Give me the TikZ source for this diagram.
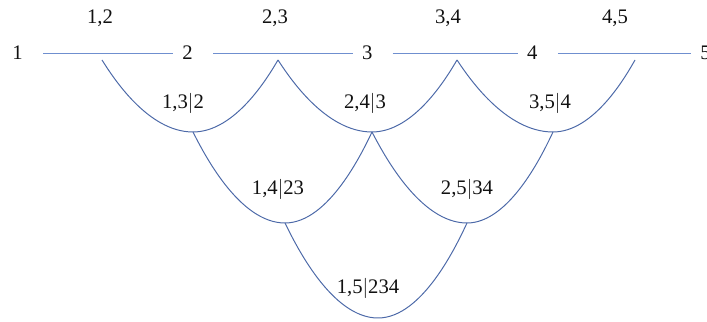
\documentclass[tikz,border=0pt]{standalone}
\usepackage{fontspec}
\setmainfont{Liberation Serif}
\usepackage{tikz}
\definecolor{cLine}{HTML}{6F8FCF}
\definecolor{cCurve}{HTML}{4C69A8}
\definecolor{cInk}{HTML}{111111}
\tikzset{
  var/.style={font=\fontsize{14.7}{17}\selectfont,text=cInk,inner sep=0pt},
  elbl/.style={font=\fontsize{14.7}{17}\selectfont,text=cInk,inner sep=1pt},
  tline/.style={draw=cLine,line width=0.7pt,shorten <=0.5cm,shorten >=0.22cm},
  vcurve/.style={draw=cCurve,line width=0.7pt},
}

\begin{document}
\begin{tikzpicture}[x=1cm,y=1cm]
  \useasboundingbox (0,0) rectangle (17.675,8.025);
  % tree 1
  \node[var] (v1) at (0.44,6.7) {1};
  \node[var] (v2) at (4.69,6.7) {2};
  \node[var] (v3) at (9.18,6.7) {3};
  \node[var] (v4) at (13.31,6.7) {4};
  \node[var] (v5) at (17.64,6.7) {5};
  \draw[tline] (v1) -- (v2);
  \draw[tline] (v2) -- (v3);
  \draw[tline] (v3) -- (v4);
  \draw[tline] (v4) -- (v5);
  \node[elbl] (e12) at (2.5,7.575) {1,2};
  \node[elbl] (e23) at (6.875,7.575) {2,3};
  \node[elbl] (e34) at (11.2,7.575) {3,4};
  \node[elbl] (e45) at (15.375,7.575) {4,5};
  \coordinate (a12) at (2.55,6.525);
  \coordinate (a23) at (6.95,6.525);
  \coordinate (a34) at (11.425,6.525);
  \coordinate (a45) at (15.875,6.525);
  % tree 2
  \coordinate (b13) at (4.825,4.725);
  \coordinate (b24) at (9.3,4.725);
  \coordinate (b35) at (13.825,4.725);
  \draw[vcurve] (a12) parabola bend (b13) (a23);
  \draw[vcurve] (a23) parabola bend (b24) (a34);
  \draw[vcurve] (a34) parabola bend (b35) (a45);
  \node[elbl] (e13) at (4.575,5.45) {1,3$|$2};
  \node[elbl] (e24) at (9.125,5.45) {2,4$|$3};
  \node[elbl] (e35) at (13.75,5.45) {3,5$|$4};
  % tree 3
  \coordinate (c14) at (7.125,2.45);
  \coordinate (c25) at (11.675,2.45);
  \draw[vcurve] (b13) parabola bend (c14) (b24);
  \draw[vcurve] (b24) parabola bend (c25) (b35);
  \node[elbl] (e14) at (6.95,3.3) {1,4$|$23};
  \node[elbl] (e25) at (11.675,3.3) {2,5$|$34};
  % tree 4
  \coordinate (d15) at (9.45,0.075);
  \draw[vcurve] (c14) parabola bend (d15) (c25);
  \node[elbl] (e15) at (9.2,0.825) {1,5$|$234};
\end{tikzpicture}
\end{document}
